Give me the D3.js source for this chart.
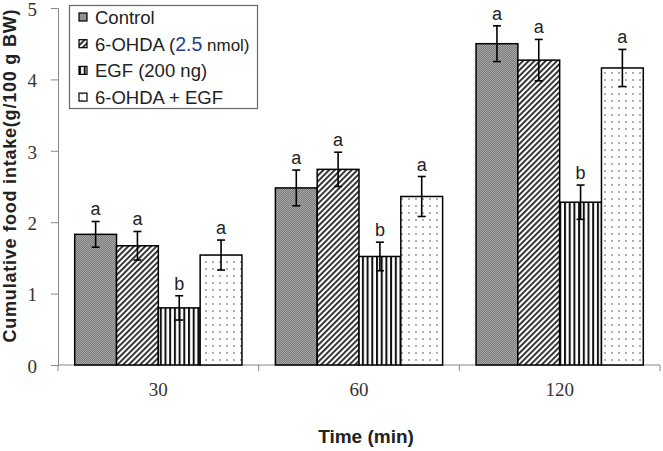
<!DOCTYPE html>
<html>
<head>
<meta charset="utf-8">
<script src="https://cdn.jsdelivr.net/npm/d3@7"></script>
<style>
  body { margin: 0; background: #fff; }
  svg { display: block; }
</style>
</head>
<body>
<div id="chart"></div>
<script>
// dados
const times = ["30", "60", "120"];
const groups = ["Control", "6-OHDA", "EGF", "6-OHDA + EGF"];
const control = [1.83, 2.48, 4.50];
const ohda = [1.67, 2.74, 4.27];
const egf = [0.80, 1.52, 2.28];
const ohdaEgf = [1.54, 2.36, 4.16];
const errControl = [0.18, 0.25, 0.25];
const errOhda = [0.20, 0.24, 0.29];
const errEgf = [0.17, 0.20, 0.24];
const errOhdaEgf = [0.21, 0.28, 0.26];
const letters = [
    ["a", "a", "b", "a"],
    ["a", "a", "b", "a"],
    ["a", "a", "b", "a"]
];
const yTicks = [0, 1, 2, 3, 4, 5];

const values = [control, ohda, egf, ohdaEgf];
const errors = [errControl, errOhda, errEgf, errOhdaEgf];

const data = [];
times.forEach((t, i) => {
    groups.forEach((g, j) => {
        data.push({ time: t, group: g, gi: j, value: values[j][i], err: errors[j][i], letter: letters[i][j] });
    });
});

const width = 663, height = 451;
const mLeft = 58, mRight = 660, mTop = 8, mBottom = 365;

const svg = d3.select("#chart")
    .append("svg")
    .attr("width", width)
    .attr("height", height);

// padrões de preenchimento
const defs = svg.append("defs");

const p0 = defs.append("pattern").attr("id", "pat0")
    .attr("patternUnits", "userSpaceOnUse").attr("width", 2).attr("height", 2);
p0.append("rect").attr("width", 2).attr("height", 2).attr("fill", "#7c7c7c");
p0.append("rect").attr("width", 1).attr("height", 1).attr("fill", "#a6a6a6");
p0.append("rect").attr("x", 1).attr("y", 1).attr("width", 1).attr("height", 1).attr("fill", "#a6a6a6");

const p1 = defs.append("pattern").attr("id", "pat1")
    .attr("patternUnits", "userSpaceOnUse").attr("width", 4).attr("height", 4)
    .attr("patternTransform", "rotate(45)");
p1.append("rect").attr("width", 4).attr("height", 4).attr("fill", "#fff");
p1.append("rect").attr("width", 1.8).attr("height", 4).attr("fill", "#222");

const p2 = defs.append("pattern").attr("id", "pat2")
    .attr("patternUnits", "userSpaceOnUse").attr("width", 4.7).attr("height", 4);
p2.append("rect").attr("width", 4.7).attr("height", 4).attr("fill", "#fff");
p2.append("rect").attr("width", 2).attr("height", 4).attr("fill", "#111");

const p3 = defs.append("pattern").attr("id", "pat3")
    .attr("patternUnits", "userSpaceOnUse").attr("width", 14).attr("height", 14);
p3.append("rect").attr("width", 14).attr("height", 14).attr("fill", "#fff");
p3.append("circle").attr("cx", 3).attr("cy", 3).attr("r", 0.9).attr("fill", "#888");
p3.append("circle").attr("cx", 10).attr("cy", 10).attr("r", 0.9).attr("fill", "#888");
p3.append("circle").attr("cx", 10).attr("cy", 3).attr("r", 0.9).attr("fill", "#888");
p3.append("circle").attr("cx", 3).attr("cy", 10).attr("r", 0.9).attr("fill", "#888");

const fills = ["url(#pat0)", "url(#pat1)", "url(#pat2)", "url(#pat3)"];

// escalas
const x = d3.scaleBand().domain(times).range([mLeft, mRight]);
const xInner = d3.scaleBand().domain(groups).range([0, x.bandwidth()]).paddingOuter(0.4);
const y = d3.scaleLinear().domain([0, 5]).range([mBottom, mTop]);

// eixo Y
const yAxis = d3.axisLeft(y).tickValues(yTicks).tickSize(7).tickFormat(d3.format("d"));
const gy = svg.append("g").attr("transform", `translate(${mLeft},0)`).call(yAxis);
gy.select(".domain").attr("stroke", "#888");
gy.selectAll(".tick line").attr("stroke", "#888");
gy.selectAll(".tick text")
    .attr("font-family", "Liberation Serif, Times New Roman, serif")
    .attr("font-size", "19px")
    .attr("fill", "#333")
    .attr("dy", "0.38em")
    .attr("x", -21);

// eixo X (marcas nas separações)
const gx = svg.append("g").attr("transform", `translate(0,${mBottom})`);
gx.append("line").attr("x1", mLeft).attr("x2", mRight).attr("y1", 0).attr("y2", 0).attr("stroke", "#888");
const seps = times.map(t => x(t)).concat([mRight]);
gx.selectAll(".sep").data(seps).enter().append("line")
    .attr("x1", d => d).attr("x2", d => d).attr("y1", 0).attr("y2", 6).attr("stroke", "#888");
gx.selectAll(".lbl").data(times).enter().append("text")
    .attr("x", d => x(d) + x.bandwidth() / 2)
    .attr("y", 31)
    .attr("text-anchor", "middle")
    .attr("font-family", "Liberation Serif, Times New Roman, serif")
    .attr("font-size", "19px")
    .attr("fill", "#333")
    .text(d => d);

// barras
svg.selectAll(".bar").data(data).enter().append("rect")
    .attr("x", d => x(d.time) + xInner(d.group))
    .attr("y", d => y(d.value))
    .attr("width", xInner.bandwidth())
    .attr("height", d => y(0) - y(d.value))
    .attr("fill", d => fills[d.gi])
    .attr("stroke", "#000")
    .attr("stroke-width", 1.5);

// barras de erro
const cx = d => x(d.time) + xInner(d.group) + xInner.bandwidth() / 2;
const eb = svg.selectAll(".err").data(data).enter().append("g").attr("stroke", "#000").attr("stroke-width", 1.6);
eb.append("line").attr("x1", cx).attr("x2", cx)
    .attr("y1", d => y(d.value + d.err)).attr("y2", d => y(d.value - d.err));
eb.append("line").attr("x1", d => cx(d) - 4).attr("x2", d => cx(d) + 4)
    .attr("y1", d => y(d.value + d.err)).attr("y2", d => y(d.value + d.err));
eb.append("line").attr("x1", d => cx(d) - 4).attr("x2", d => cx(d) + 4)
    .attr("y1", d => y(d.value - d.err)).attr("y2", d => y(d.value - d.err));

// letras de significância
svg.selectAll(".letter").data(data).enter().append("text")
    .attr("x", cx)
    .attr("y", d => y(d.value + d.err) - 6)
    .attr("text-anchor", "middle")
    .attr("font-family", "Liberation Sans, Arial, sans-serif")
    .attr("font-size", "18px")
    .attr("fill", "#222")
    .text(d => d.letter);

// títulos dos eixos
svg.append("text")
    .attr("transform", "translate(16,176) rotate(-90)")
    .attr("text-anchor", "middle")
    .attr("font-family", "Liberation Sans, Arial, sans-serif")
    .attr("font-weight", "bold")
    .attr("font-size", "18px")
    .attr("textLength", 333)
    .attr("lengthAdjust", "spacing")
    .attr("fill", "#222")
    .text("Cumulative food intake(g/100 g BW)");

svg.append("text")
    .attr("x", 366)
    .attr("y", 443)
    .attr("text-anchor", "middle")
    .attr("font-family", "Liberation Sans, Arial, sans-serif")
    .attr("font-weight", "bold")
    .attr("font-size", "19px")
    .attr("fill", "#222")
    .text("Time (min)");

// legenda
const leg = svg.append("g");
leg.append("rect").attr("x", 69.5).attr("y", 5.5).attr("width", 188).attr("height", 103)
    .attr("fill", "#fff").attr("stroke", "#666").attr("stroke-width", 1.2);
const legRows = leg.selectAll(".row").data(groups).enter().append("g")
    .attr("transform", (d, i) => `translate(79,${17.5 + i * 26.7})`);
legRows.append("rect").attr("x", 0).attr("y", -4.5).attr("width", 8).attr("height", 8)
    .attr("fill", (d, i) => fills[i]).attr("stroke", "#000").attr("stroke-width", 1.2);
const legText = legRows.append("text")
    .attr("x", 16).attr("y", 6.5)
    .attr("font-family", "Liberation Sans, Arial, sans-serif")
    .attr("font-size", "18.5px")
    .attr("fill", "#222");
legText.each(function (d) {
    const t = d3.select(this);
    if (d === "6-OHDA") {
        t.append("tspan").text("6-OHDA (");
        t.append("tspan").attr("fill", "#1f3f8f").attr("font-size", "19.5px").text("2.5");
        t.append("tspan").attr("font-size", "17px").text(" nmol)");
    } else if (d === "EGF") {
        t.text("EGF (200 ng)");
    } else {
        t.text(d);
    }
});
</script>
</body>
</html>
